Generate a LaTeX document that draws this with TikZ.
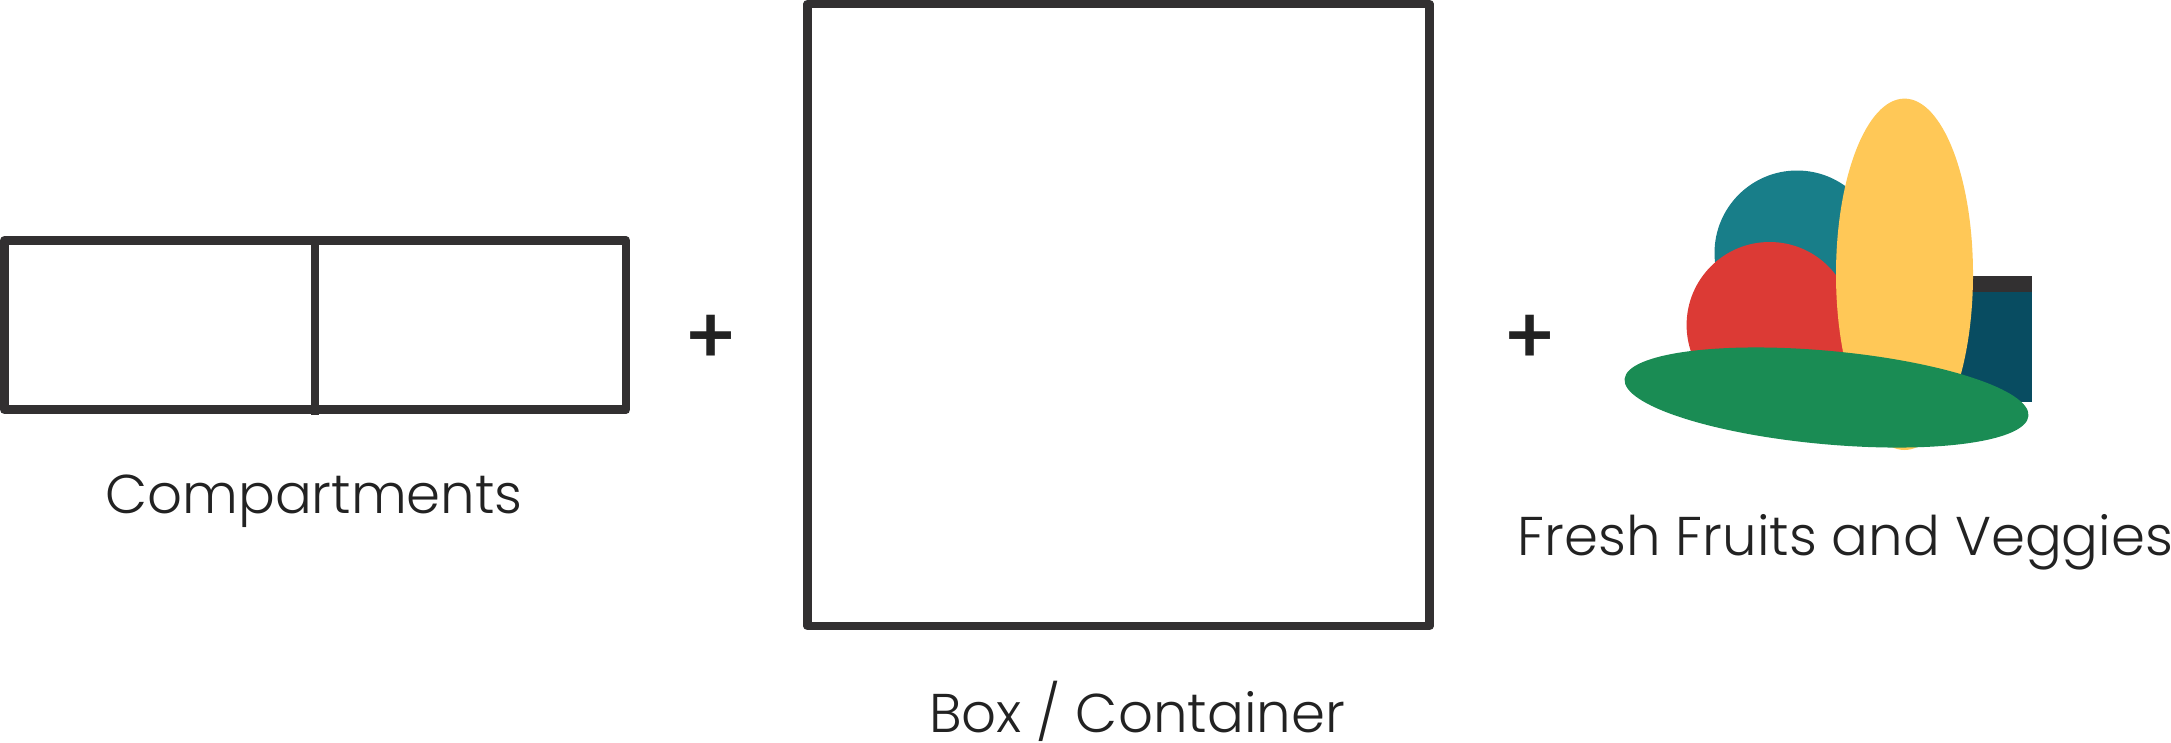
\documentclass[tikz,border=0pt]{standalone}
\usepackage{xcolor}
\usepackage{fontspec}
\setmainfont{Poppins}[UprightFont=* Light]
\newfontfamily\plusfont{Poppins}[UprightFont=* Medium]
\definecolor{Ink}{HTML}{323031}
\definecolor{Txt}{HTML}{222222}
\definecolor{Teal}{HTML}{187E89}
\definecolor{Tomato}{HTML}{DC3A35}
\definecolor{Corn}{HTML}{FFC857}
\definecolor{Navy}{HTML}{084C61}
\definecolor{Leaf}{HTML}{1A8C54}
\tikzset{
    Outline/.style = {draw=Ink,line width=8.7pt,line join=round},
    Label/.style = {text=Txt,font=\fontsize{54.6}{60}\selectfont,inner sep=0pt,anchor=base},
    Plus/.style = {text=Txt,font=\plusfont\fontsize{80}{80}\selectfont,inner sep=0pt}
}
\begin{document}
\begin{tikzpicture}[x=1pt,y=-1pt]
        \useasboundingbox (0,0) rectangle (2171,742);
        \draw[Outline] (4.4,240.5) rectangle (626,409.7);
        \draw[Outline,line width=7.7pt] (315,240.5) -- (315,415);
        \draw[Outline] (807.5,4) rectangle (1429.5,626);
        \foreach \X/\Y in {711/339.5,1530/339.5}
            {\node[Plus] (plus\X) at (\X,\Y) {+};}
        \fill[Teal] (1797,253) circle (82.5);
        \fill[Navy] (1900,276.3) rectangle (2032.3,401.7);
        \fill[Ink] (1900,276.3) rectangle (2032.3,291.7);
        \fill[Tomato] (1769.6,325) circle (83);
        \fill[Corn] (1904.5,274.3) ellipse [x radius=68.5,y radius=175.7];
        \fill[Leaf,rotate around={-5.23:(1826.5,397.5)}] (1826.5,397.5) ellipse [x radius=202.8,y radius=46.7];
        \node[Label] (compartments) at (314,513) {Compartments};
        \node[Label] (container) at (1137,732) {Box / Container};
        \node[Label] (produce) at (1845.5,555) {Fresh Fruits and Veggies};
\end{tikzpicture}
\end{document}
